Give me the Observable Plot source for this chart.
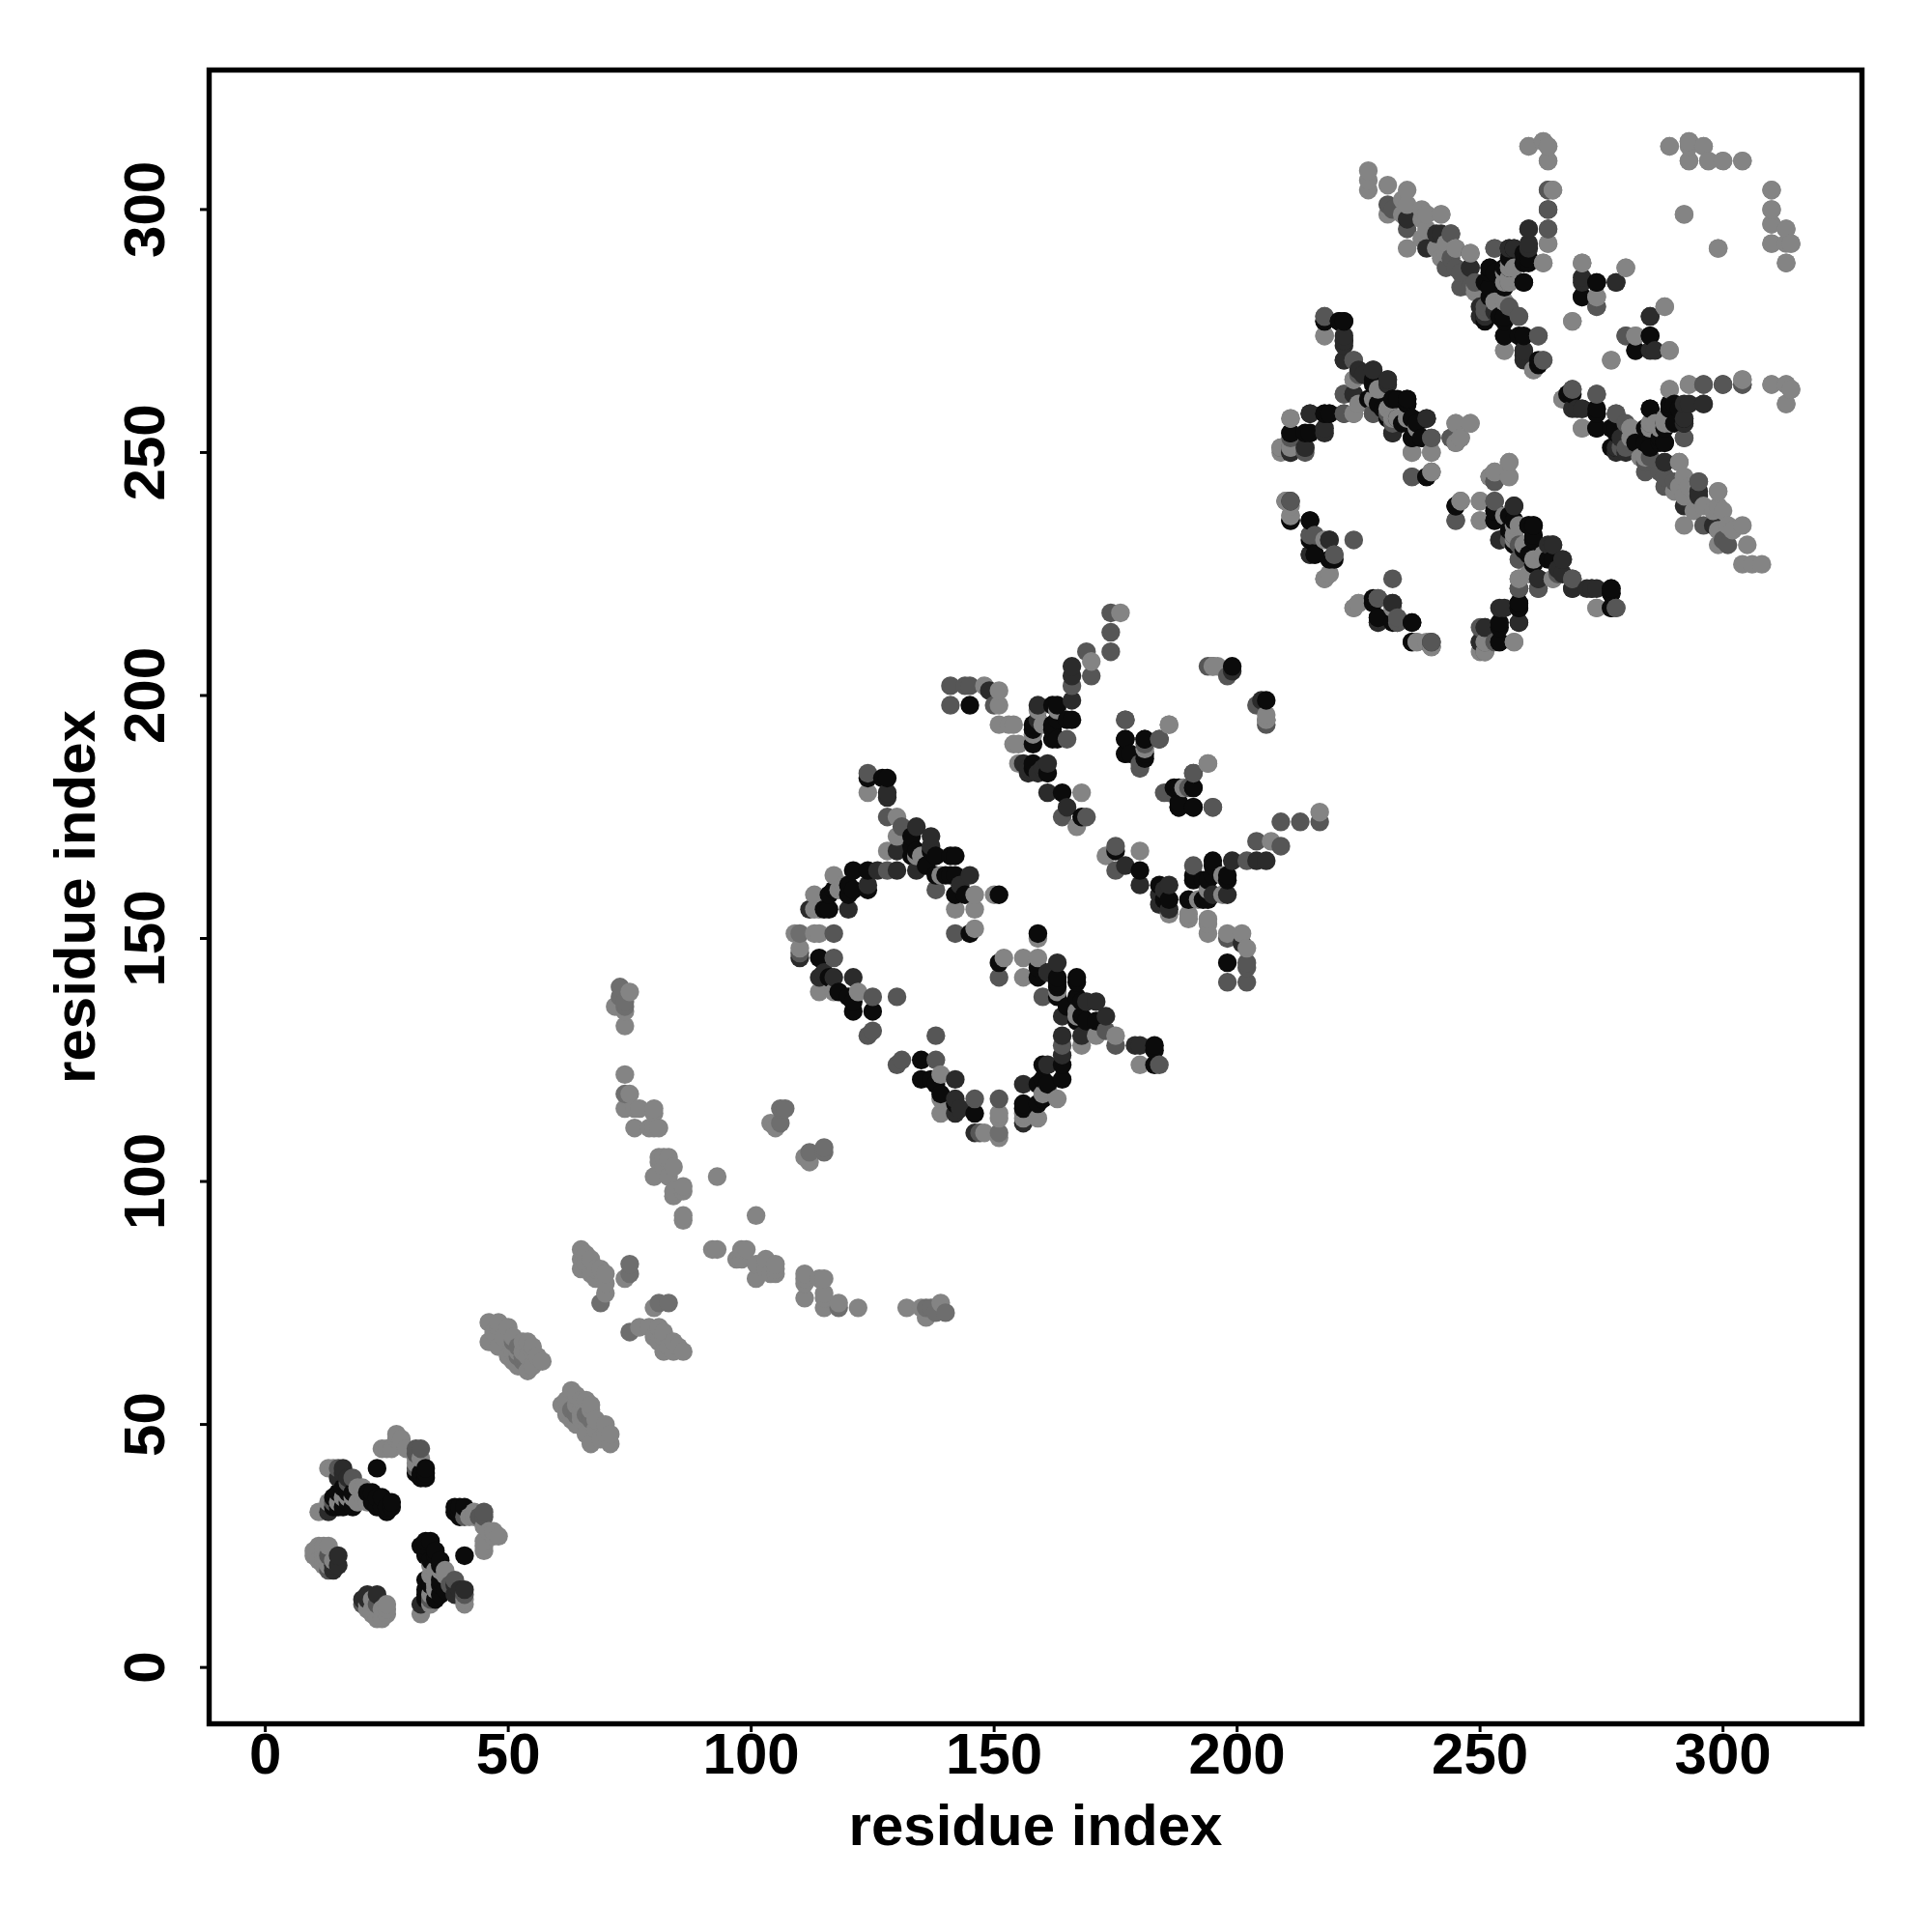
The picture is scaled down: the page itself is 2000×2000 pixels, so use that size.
<!DOCTYPE html>
<html>
<head>
<meta charset="utf-8">
<script src="https://cdn.jsdelivr.net/npm/d3@7"></script>
<script src="https://cdn.jsdelivr.net/npm/@observablehq/plot@0.6"></script>
<style>html,body{margin:0;padding:0;background:#fff}</style>
</head>
<body>
<div id="chart"></div>
<script>
const tickValues = [0, 50, 100, 150, 200, 250, 300];
const axisTitle = "residue index";

// Contacts: [i, j]. A contact map is symmetric, so each also appears as [j, i].
const blackContacts = [
[14,33],[14,35],[15,33],[16,33],[15,36],[17,34],[18,33],[18,36],[21,36],[22,36],[22,34],[23,33],[23,35],[24,35],[24,33],[25,32],[25,33],[26,33],[26,34],[23,41],[31,40],[32,39],[32,40],[33,41],[33,40],[33,39],[16,37],[17,36],
[124,183],[127,183],[128,183],[133,171],[133,167],[138,167],[141,167],[138,163],[141,163],[142,163],[142,159],[145,151],[151,159],
[121,164],[124,164],[124,160],[121,160],[117,160],[116,156],[114,146],[118,139],[121,135],[125,135],[134,168],[142,167],[137,168],
[116,142],[120,138],[121,137],[120,161],[116,159],[115,156],[120,159],[136,165],[133,169],[140,163],[144,159],
[145,198],[158,194],[158,190],[162,198],[163,198],[162,194],[162,191],[163,191],[166,195],[158,186],[161,184],[164,180],[168,175],[162,193],[158,193],[163,195],[165,195],[158,185],
[177,191],[181,191],[177,188],[178,188],[181,188],[187,181],[188,177],[191,181],[191,177],[199,206],
[218,277],[221,277],[222,277],[228,265],[227,261],[232,261],[235,261],[235,260],[231,257],[236,257],[236,253],[239,245],[230,259],[234,256],[238,253],
[215,258],[218,258],[219,258],[211,254],[214,254],[211,250],[211,236],[215,236],[215,233],[216,229],[219,228],
[245,239],[253,238],[253,236],[257,239],[257,236],[260,235],[261,235],[261,232],[261,228],[264,228],[277,222],[277,221],[277,218],[256,237],[261,233],[260,229],
[258,218],[258,219],[254,215],[254,211],[228,220],[229,216],[232,215],[236,215],[236,211],
[260,289],[259,285],[256,292],[252,288],[255,288],[252,284],[255,285],[251,278],[255,278],[255,274],[258,274],[262,269],[252,287],[256,290],[251,285],[254,278],[259,291],
[274,285],[271,282],[285,274],[282,271],
[260,290],[259,289],[285,259],[292,257],[288,256],[284,255],[284,252],[288,252],[277,255],[268,262],[274,259],[274,255],[287,253],[282,252],[277,251]
];
const darkContacts = [
[13,32],[16,41],[17,39],[15,39],[16,40],[14,21],[15,21],[14,20],[15,23],
[128,180],[128,179],[130,168],[134,173],[137,171],[130,164],[134,164],[137,169],[145,163],[126,164],[124,161],[112,156],[120,156],[110,146],[114,142],[117,142],[121,142],[115,143],[143,161],
[149,201],[159,198],[166,199],[166,204],[166,206],[157,185],[161,186],[161,180],[165,177],[191,184],[199,205],[157,184],[156,186],[159,184],[159,195],[160,185],
[222,274],[222,273],[222,269],[225,267],[228,267],[231,265],[224,262],[239,257],[232,254],[218,255],[214,251],[219,232],[215,229],
[254,232],[257,233],[265,231],[264,231],[267,228],[262,224],[269,222],[258,222],[273,222],[272,222],[254,218],[258,215],[251,214],[250,211],[266,226],
[232,219],[229,215],[240,211],[260,296],[260,293],[257,292],[248,288],[241,295],[285,278],[286,271],[259,270],[259,271],[271,285],[278,285],[250,280],[250,278],
[300,264],[296,260],[292,260],[269,259],[271,259],[278,251],[288,248],[295,242],[292,239],[298,235],[292,256],[279,253]
];
const midContacts = [
[15,41],[13,23],[13,20],[14,34],[17,38],[18,39],[31,45],[32,45],[31,44],[31,41],
[124,184],[128,175],[131,173],[128,164],[138,160],[142,151],[110,147],[117,151],[117,146],[125,138],[130,138],[125,131],[124,130],
[141,202],[141,198],[144,202],[145,202],[150,198],[165,191],[166,202],[169,209],[170,204],[174,209],[174,213],[174,217],[164,175],[169,175],
[177,195],[180,186],[181,190],[184,191],[185,180],[195,177],[194,206],[198,204],[195,206],
[218,278],[224,269],[222,262],[222,258],[228,258],[240,253],[236,245],[244,253],[245,252],[253,244],[231,258],
[209,251],[211,240],[216,233],[220,229],[224,232],[229,220],[233,215],[240,210],
[246,240],[245,236],[253,240],[258,228],[258,224],[266,225],[269,224],[262,222],[278,218],[250,214],[251,211],[253,211],[256,232],
[264,304],[264,300],[264,296],[253,292],[244,295],[243,288],[245,288],[248,284],[251,280],[258,278],[262,274],[263,269],[246,284],[256,280],
[274,280],[280,274],[304,264],[296,264],[274,262],[269,263],[267,261],[278,258],[281,252],[291,248],[288,245],[295,244],[296,235],[301,231],[292,253],[244,290],[232,300],[249,285],[246,287],[279,251],[285,256]
];
const softContacts = [
[51,67],[52,66],[52,64],[53,63],[53,64],[69,75],[75,83],[75,81],[73,140],[73,138],[74,137],[74,118],[74,136],[106,115],[107,115],[106,112],[110,151]
];
const paleContacts = [
[13,41],[14,41],[11,32],[13,34],[24,45],[26,45],[27,47],[27,48],[28,46],[28,47],[29,45],[31,43],[31,42],[19,34],[20,36],[20,35],[21,34],[10,24],[11,25],[12,25],[13,25],[12,23],[11,22],[12,21],[12,22],[32,43],[25,45],[10,23],[12,24],[13,21],[14,22],[19,37],[20,37],[15,34],[16,35],[18,35],[17,35],
[46,71],[48,71],[50,70],[46,67],[47,69],[48,70],[49,68],[53,67],[55,66],[50,64],[54,61],[57,63],[55,62],[52,65],[54,64],[51,68],[53,65],[55,65],[56,64],[52,62],[54,67],[51,63],[51,65],[48,66],
[65,86],[65,84],[67,84],[66,83],[67,81],[69,82],[70,81],[70,79],[70,77],[74,80],[65,82],[66,85],[68,82],[68,80],
[84,98],[84,97],[83,101],[80,101],[86,98],[86,99],[81,105],[82,105],[83,105],[81,104],[82,103],[84,103],[86,93],[86,92],[93,101],
[74,122],[75,118],[74,115],[76,115],[77,115],[80,115],[80,114],[76,111],[79,111],[80,111],[81,111],[75,139],[72,136],[74,132],[74,135],[105,111],[104,112],
[124,180],[130,175],[130,171],[128,168],[135,167],[139,163],[146,159],[142,156],[146,156],[146,152],[150,159],[134,167],
[117,163],[118,160],[119,161],[113,159],[113,156],[114,156],[109,151],[113,151],[114,151],[110,148],[114,139],[117,139],[122,139],
[148,202],[151,201],[151,198],[151,194],[154,194],[153,194],[154,190],[155,190],[155,186],[159,197],[170,207],[176,217],[168,180],[167,173],[160,194],[158,192],[163,197],
[186,194],[194,186],[189,181],[195,206],[196,206],
[218,274],[224,265],[228,261],[224,258],[232,257],[236,250],[240,250],[240,246],[245,256],[248,256],[246,253],[233,257],
[256,248],[253,246],[256,245],[252,245],[211,257],[211,251],[210,240],[211,237],[218,232],[219,225],[218,224],[224,218],[225,219],[237,211],[239,211],
[250,240],[250,236],[255,237],[258,235],[265,224],[274,218],[257,211],[251,209],[250,209],[257,235],[259,231],[263,229],[260,225],
[260,313],[263,314],[264,313],[264,310],[265,304],[264,293],[263,289],[248,291],[245,292],[242,299],[239,299],[256,288],[256,285],[255,281],[255,271],[261,267],[255,287],[243,291],[241,292],
[289,313],[293,314],[296,313],[293,310],[297,310],[300,310],[304,310],[310,304],[310,300],[313,296],[310,293],[314,293],[313,289],[292,299],[299,292],[310,297],[313,293],
[271,289],[274,282],[280,288],[269,277],[288,280],[282,274],[289,271],[277,269],
[293,264],[304,265],[310,264],[313,264],[314,263],[313,260],[289,263],[289,256],[285,255],[281,255],[271,255],[284,249],[292,245],[299,242],[296,239],[300,238],[292,235],[301,235],[304,235],[299,231],[305,231],[304,227],[306,227],[308,227],[242,290],[243,293],[238,294],[234,299],[234,302],[238,298],[249,283],[286,256],[288,257],[281,253]
];
const shadeNames = ["#0b0b0b", "#2b2b2b", "#565656", "#6e6e6e", "#848484"];
const shadeGroups = [blackContacts, darkContacts, midContacts, softContacts, paleContacts];

const rows = [];
shadeGroups.forEach((group, s) => {
  for (const [i, j] of group) {
    rows.push({x: i, y: j, shade: shadeNames[s]});
    rows.push({x: j, y: i, shade: shadeNames[s]});
  }
});
const points = d3.sort(rows, d => d.x, d => d.y);

const font = "'Liberation Sans', Arial, sans-serif";
const chart = Plot.plot({
  width: 2000,
  height: 2000,
  marginLeft: 216,
  marginRight: 73,
  marginTop: 72,
  marginBottom: 216,
  x: {domain: [-11.56, 328.6], ticks: tickValues},
  y: {domain: [-11.6, 328.7], ticks: tickValues},
  style: {background: "#fff", color: "#000"},
  marks: [
    Plot.dot(points, {x: "x", y: "y", r: 9.7, fill: "shade", stroke: "none"}),
    Plot.frame({stroke: "#000", strokeWidth: 5.4}),
    Plot.axisX(tickValues, {label: null, tickSize: 9, strokeWidth: 3, tickPadding: 0, fontSize: 60, fontWeight: "bold", fontFamily: font}),
    Plot.axisY(tickValues, {label: null, tickSize: 9, strokeWidth: 3, tickPadding: 38, tickRotate: -90, textAnchor: "middle", fontSize: 60, fontWeight: "bold", fontFamily: font}),
    Plot.text([axisTitle], {frameAnchor: "bottom", dy: 125, fontSize: 60, fontWeight: "bold", fontFamily: font, fill: "#000"}),
    Plot.text([axisTitle], {frameAnchor: "left", dx: -138, rotate: -90, textAnchor: "middle", fontSize: 60, fontWeight: "bold", fontFamily: font, fill: "#000"})
  ]
});
document.getElementById("chart").appendChild(chart);
</script>
</body>
</html>
